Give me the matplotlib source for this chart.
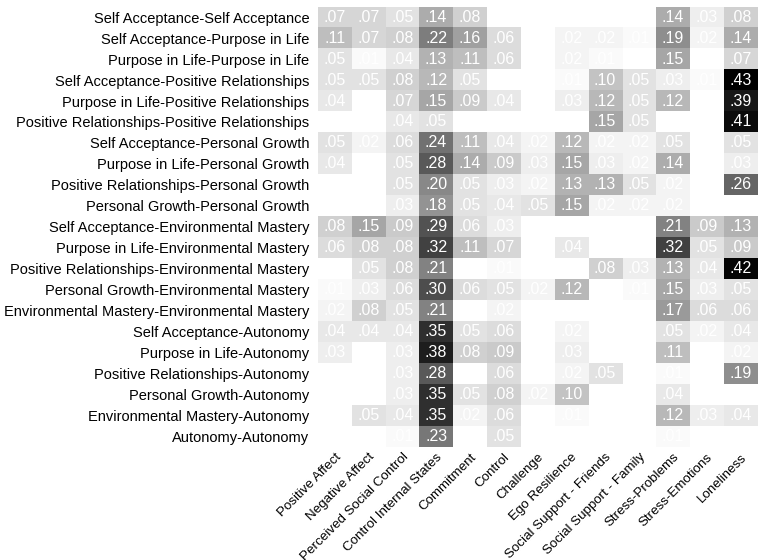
import numpy as np
import matplotlib
matplotlib.use("Agg")
import matplotlib.pyplot as plt
from matplotlib.colors import LinearSegmentedColormap

plt.rcParams['font.family'] = ['Liberation Sans', 'DejaVu Sans']

rows = [
    "Self Acceptance-Self Acceptance",
    "Self Acceptance-Purpose in Life",
    "Purpose in Life-Purpose in Life",
    "Self Acceptance-Positive Relationships",
    "Purpose in Life-Positive Relationships",
    "Positive Relationships-Positive Relationships",
    "Self Acceptance-Personal Growth",
    "Purpose in Life-Personal Growth",
    "Positive Relationships-Personal Growth",
    "Personal Growth-Personal Growth",
    "Self Acceptance-Environmental Mastery",
    "Purpose in Life-Environmental Mastery",
    "Positive Relationships-Environmental Mastery",
    "Personal Growth-Environmental Mastery",
    "Environmental Mastery-Environmental Mastery",
    "Self Acceptance-Autonomy",
    "Purpose in Life-Autonomy",
    "Positive Relationships-Autonomy",
    "Personal Growth-Autonomy",
    "Environmental Mastery-Autonomy",
    "Autonomy-Autonomy",
]

cols = [
    "Positive Affect", "Negative Affect", "Perceived Social Control",
    "Control Internal States", "Commitment", "Control", "Challenge",
    "Ego Resilience", "Social Support - Friends", "Social Support - Family",
    "Stress-Problems", "Stress-Emotions", "Loneliness",
]

n = np.nan
values = np.array([
    [.07, .07, .05, .14, .08, n, n, n, n, n, .14, .03, .08],
    [.11, .07, .08, .22, .16, .06, n, .02, .02, .01, .19, .02, .14],
    [.05, .01, .04, .13, .11, .06, n, .02, .01, n, .15, n, .07],
    [.05, .05, .08, .12, .05, n, n, .01, .10, .05, .03, .01, .43],
    [.04, n, .07, .15, .09, .04, n, .03, .12, .05, .12, n, .39],
    [n, n, .04, .05, n, n, n, n, .15, .05, n, n, .41],
    [.05, .02, .06, .24, .11, .04, .02, .12, .02, .02, .05, n, .05],
    [.04, n, .05, .28, .14, .09, .03, .15, .03, .02, .14, n, .03],
    [n, n, .05, .20, .05, .03, .02, .13, .13, .05, .02, n, .26],
    [n, n, .03, .18, .05, .04, .05, .15, .02, .02, .02, n, n],
    [.08, .15, .09, .29, .06, .03, n, n, n, n, .21, .09, .13],
    [.06, .08, .08, .32, .11, .07, n, .04, n, n, .32, .05, .09],
    [n, .05, .08, .21, n, .01, n, n, .08, .03, .13, .04, .42],
    [.01, .03, .06, .30, .06, .05, .02, .12, n, .01, .15, .03, .05],
    [.02, .08, .05, .21, n, .02, n, n, n, n, .17, .06, .06],
    [.04, .04, .04, .35, .05, .06, n, .02, n, n, .05, .02, .04],
    [.03, n, .03, .38, .08, .09, n, .03, n, n, .11, n, .02],
    [n, n, .03, .28, n, .06, n, .02, .05, n, .01, n, .19],
    [n, n, .03, .35, .05, .08, .02, .10, n, n, .04, n, n],
    [n, .05, .04, .35, .02, .06, n, .01, n, n, .12, .03, .04],
    [n, n, .01, .23, n, .05, n, n, n, n, .01, n, n],
])

cmap = LinearSegmentedColormap.from_list("wk", ["white", "black"])
cmap.set_bad("white")

fig = plt.figure(figsize=(7.64, 5.6), dpi=100)
ax = fig.add_axes([0.416, 0.202, 0.575, 0.786])
ax.imshow(np.ma.masked_invalid(values), cmap=cmap, vmin=0, vmax=0.43,
          aspect='auto', interpolation='nearest')

for i in range(values.shape[0]):
    for j in range(values.shape[1]):
        v = values[i, j]
        if np.isnan(v):
            continue
        ax.text(j, i, ("%.2f" % v)[1:], ha='center', va='center',
                color='white', fontsize=11.5)

ax.set_xticks(range(len(cols)))
ax.set_xticklabels(cols, rotation=45, ha='right', rotation_mode='anchor',
                   fontsize=9.6)
ax.set_yticks(range(len(rows)))
ax.set_yticklabels(rows, fontsize=10.5)
ax.tick_params(axis='y', length=0, pad=6)
ax.tick_params(axis='x', length=0, pad=3)
for s in ax.spines.values():
    s.set_visible(False)

fig.savefig("out.png", dpi=100)
